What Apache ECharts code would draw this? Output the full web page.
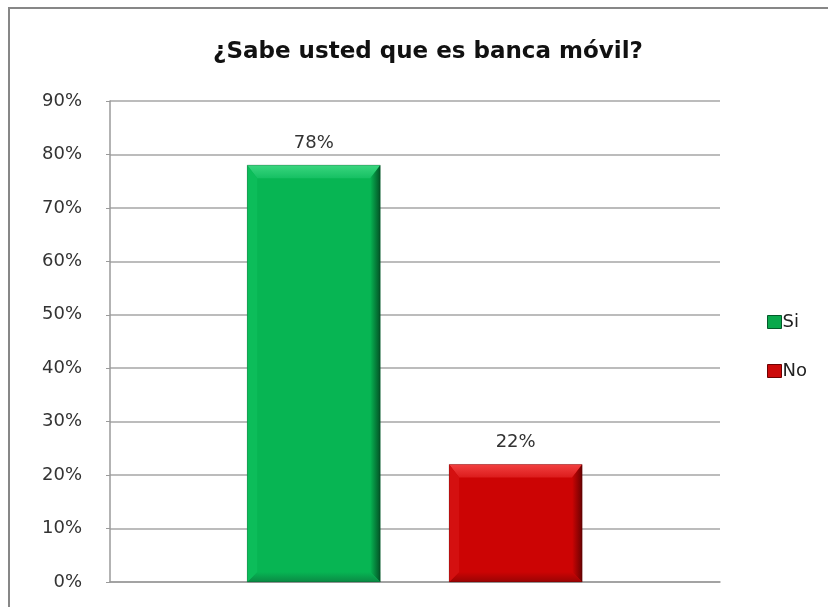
<!DOCTYPE html>
<html>
<head>
<meta charset="utf-8">
<script src="https://cdn.jsdelivr.net/npm/echarts@6/dist/echarts.min.js"></script>
<style>
  html, body { margin: 0; padding: 0; background: #fff; }
  #chart { width: 828px; height: 607px; }
</style>
</head>
<body>
<div id="chart"></div>
<script>
// Survey answers: share of respondents who know what mobile banking is
const categories = [''];
const seriesNames = ['Si', 'No'];
const siValues = [78];
const noValues = [22];
const yTicks = [0, 10, 20, 30, 40, 50, 60, 70, 80, 90];

const FONT = '"DejaVu Sans", sans-serif';

// Colour sets for the bevelled columns: face, top, right, bottom, left
const palettes = {
  Si: { face: '#07b553', top: '#3ad67f', topInner: '#16c063', right: '#035326', bottom: '#0a8a44', left: '#0cbd5a', legend: '#0aa84c' },
  No: { face: '#cc0404', top: '#f24040', topInner: '#dc1c1c', right: '#6a0202', bottom: '#9a0404', left: '#d41010', legend: '#cc0a0a' }
};

// Draws one bevelled column positioned within the category band
function bevelColumn(pal, offsetFrac, widthFrac) {
  return function (params, api) {
    const cat = api.value(0);
    const val = api.value(1);
    const base = api.coord([cat, 0]);
    const top = api.coord([cat, val]);
    const band = api.size([1, 0])[0];
    const w = band * widthFrac;
    const cx = base[0] + band * offsetFrac;
    const x0 = cx - w / 2, x1 = cx + w / 2;
    const y0 = top[1], y1 = base[1];
    const b = Math.min(13, (y1 - y0) / 3);
    const s = 10;
    return {
      type: 'group',
      children: [
        { type: 'rect', shape: { x: x0, y: y0, width: w, height: y1 - y0 }, style: { fill: pal.face } },
        { type: 'polygon', shape: { points: [[x0, y0], [x1, y0], [x1 - s, y0 + b], [x0 + s, y0 + b]] },
          style: { fill: new echarts.graphic.LinearGradient(0, 0, 0, 1, [{ offset: 0, color: pal.top }, { offset: 1, color: pal.topInner }]) } },
        { type: 'polygon', shape: { points: [[x1, y0], [x1, y1], [x1 - s, y1 - s], [x1 - s, y0 + b]] },
          style: { fill: new echarts.graphic.LinearGradient(0, 0, 1, 0, [{ offset: 0, color: pal.face }, { offset: 1, color: pal.right }]) } },
        { type: 'polygon', shape: { points: [[x0, y1], [x1, y1], [x1 - s, y1 - s], [x0 + s, y1 - s]] },
          style: { fill: new echarts.graphic.LinearGradient(0, 0, 0, 1, [{ offset: 0, color: pal.face }, { offset: 1, color: pal.bottom }]) } },
        { type: 'polygon', shape: { points: [[x0, y0], [x0 + s, y0 + b], [x0 + s, y1 - s], [x0, y1]] }, style: { fill: pal.left } },
        { type: 'rect', shape: { x: x0, y: y0, width: w, height: y1 - y0 }, style: { fill: 'none', stroke: 'rgba(0,0,0,0.2)', lineWidth: 1 } },
        {
          type: 'text',
          style: {
            text: val + '%', x: cx, y: y0 - 13,
            align: 'center', verticalAlign: 'bottom',
            fill: '#333', font: '18px ' + FONT
          }
        }
      ]
    };
  };
}

const chart = echarts.init(document.getElementById('chart'), null, { renderer: 'canvas' });

chart.setOption({
  backgroundColor: '#fff',
  animation: false,
  title: {
    text: '¿Sabe usted que es banca móvil?',
    left: 423, top: 36, textAlign: 'center',
    textStyle: { fontFamily: FONT, fontSize: 23, fontWeight: 'bold', color: '#111' }
  },
  graphic: [
    { type: 'polyline', shape: { points: [[9, 607], [9, 8], [828, 8]] }, style: { stroke: '#878787', lineWidth: 2, fill: 'none' } }
  ],
  legend: {
    orient: 'vertical', left: 762, top: 308,
    itemWidth: 14, itemHeight: 13, itemGap: 31,
    icon: 'rect',
    textStyle: { fontFamily: FONT, fontSize: 18, color: '#222', padding: [0, 0, 0, -4] },
    data: [
      { name: 'Si', itemStyle: { color: palettes.Si.legend, borderColor: '#045a2a', borderWidth: 1 } },
      { name: 'No', itemStyle: { color: palettes.No.legend, borderColor: '#6e0202', borderWidth: 1 } }
    ]
  },
  grid: { left: 110, right: 108, top: 101, bottom: 25 },
  xAxis: {
    type: 'category',
    data: categories,
    axisLine: { show: true, lineStyle: { color: '#9a9a9a', width: 1.5 } },
    axisTick: { show: false },
    axisLabel: { show: false }
  },
  yAxis: {
    type: 'value',
    min: yTicks[0], max: yTicks[yTicks.length - 1], interval: 10,
    axisLine: { show: true, lineStyle: { color: '#9a9a9a', width: 1.5 } },
    axisTick: { show: true, length: 4, lineStyle: { color: '#9a9a9a' } },
    splitLine: { show: true, lineStyle: { color: '#a6a6a6', width: 1.5 } },
    axisLabel: {
      formatter: v => v + '%', margin: 28,
      fontFamily: FONT, fontSize: 18, color: '#333'
    }
  },
  series: [
    {
      name: seriesNames[0], type: 'custom',
      renderItem: bevelColumn(palettes.Si, -0.166, 0.218),
      encode: { x: 0, y: 1 },
      data: siValues.map((v, i) => [i, v])
    },
    {
      name: seriesNames[1], type: 'custom',
      renderItem: bevelColumn(palettes.No, 0.165, 0.218),
      encode: { x: 0, y: 1 },
      data: noValues.map((v, i) => [i, v])
    }
  ]
});
</script>
</body>
</html>
